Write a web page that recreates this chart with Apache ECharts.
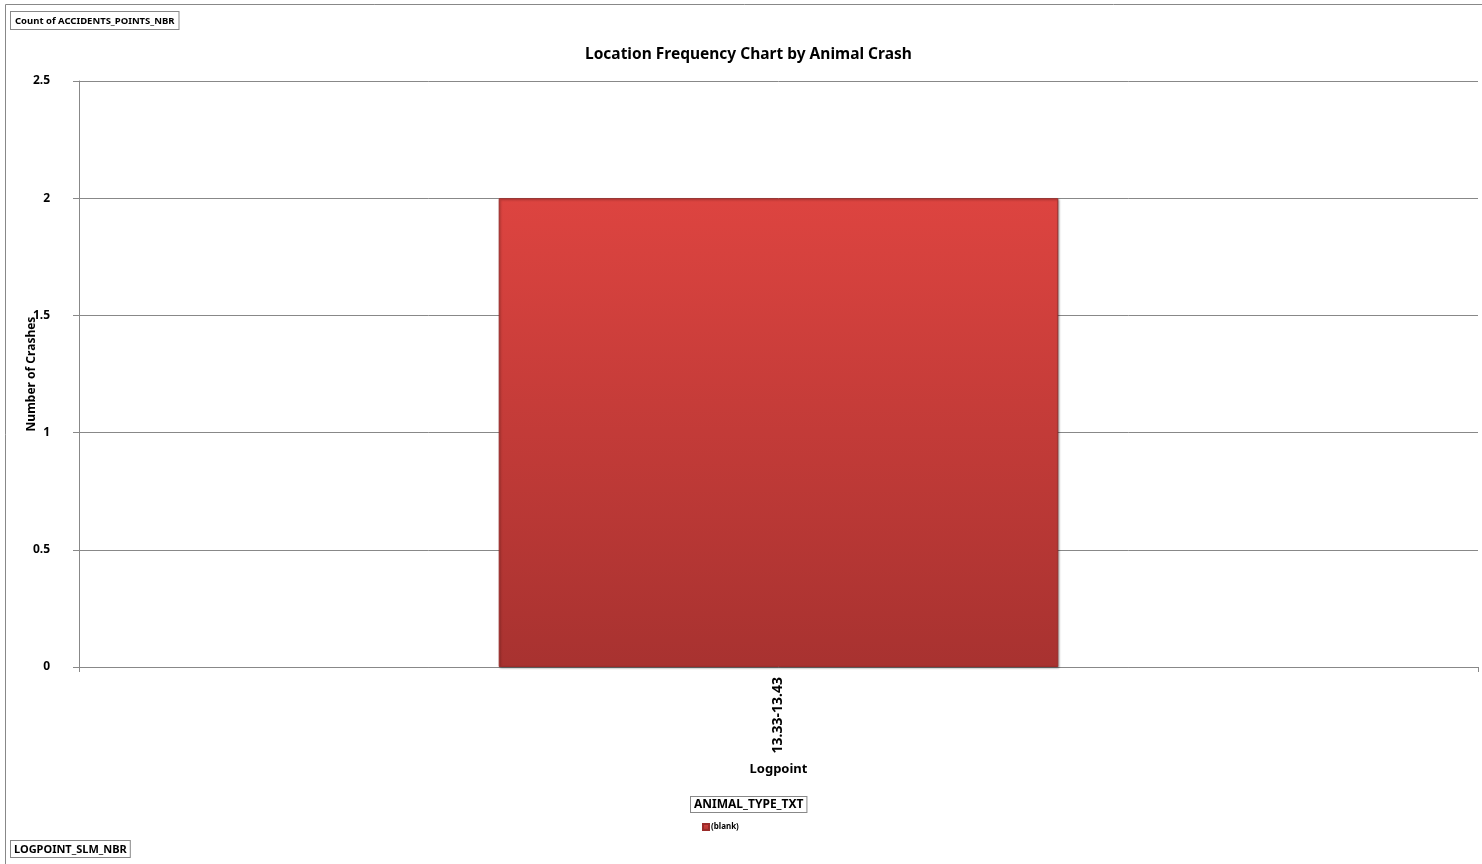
<!DOCTYPE html>
<html>
<head>
<meta charset="utf-8">
<script src="https://cdn.jsdelivr.net/npm/echarts@6/dist/echarts.min.js"></script>
<style>
  html, body { margin: 0; padding: 0; background: #fff; }
  #main { width: 1482px; height: 864px; }
</style>
</head>
<body>
<div id="main"></div>
<script>
// data
var categories = ['13.33-13.43'];
var seriesName = '(blank)';
var crashCounts = [2];
var yTicks = [0, 0.5, 1, 1.5, 2, 2.5];

var font = '"Noto Sans", "Open Sans", sans-serif';
var myChart = echarts.init(document.getElementById('main'));

var option = {
  animation: false,
  textStyle: { fontFamily: font },
  title: {
    text: 'Location Frequency Chart by Animal Crash',
    left: 580,
    top: 42,
    textStyle: { fontSize: 15.5, fontWeight: 'bold', color: '#000', fontFamily: font }
  },
  legend: {
    data: [seriesName],
    left: 697,
    top: 818,
    itemWidth: 6,
    itemHeight: 6,
    itemGap: 4,
    icon: 'rect',
    textStyle: { fontSize: 8, fontWeight: 'bold', color: '#000', padding: [0, 0, 0, -3] }
  },
  grid: { left: 79, right: 4, top: 81, bottom: 197, containLabel: false },
  xAxis: {
    type: 'category',
    data: categories,
    name: 'Logpoint',
    nameLocation: 'middle',
    nameGap: 96,
    nameMoveOverlap: false,
    nameTextStyle: { fontSize: 13, fontWeight: 'bold', color: '#000' },
    axisLine: { lineStyle: { color: '#888', width: 1 } },
    axisTick: { show: true, alignWithLabel: false, length: 5, lineStyle: { color: '#888' } },
    axisLabel: { rotate: 90, fontSize: 14, fontWeight: 'bold', color: '#000', margin: 10 }
  },
  yAxis: {
    type: 'value',
    min: yTicks[0],
    max: yTicks[yTicks.length - 1],
    interval: 0.5,
    name: 'Number of Crashes',
    nameLocation: 'middle',
    nameGap: 41,
    nameRotate: 90,
    nameMoveOverlap: false,
    nameTextStyle: { fontSize: 12, fontWeight: 'bold', color: '#000' },
    axisLine: { show: true, lineStyle: { color: '#888', width: 1 } },
    axisTick: { show: true, length: 6, lineStyle: { color: '#888' } },
    axisLabel: { fontSize: 12, fontWeight: 'bold', color: '#000', margin: 29 },
    splitLine: { show: true, lineStyle: { color: '#888', width: 1 } }
  },
  series: [{
    name: seriesName,
    type: 'bar',
    data: crashCounts,
    barWidth: '40%',
    itemStyle: {
      color: new echarts.graphic.LinearGradient(0, 0, 0, 1, [
        { offset: 0, color: '#dd4440' },
        { offset: 1, color: '#a83230' }
      ]),
      borderColor: '#9a2c2a',
      borderWidth: 1,
      shadowColor: 'rgba(0,0,0,0.3)',
      shadowBlur: 2,
      shadowOffsetX: 1,
      shadowOffsetY: 1
    }
  }],
  graphic: [
    {
      type: 'rect',
      shape: { x: 5.5, y: 4.5, width: 1480, height: 870 },
      style: { fill: 'none', stroke: '#888', lineWidth: 1 },
      silent: true
    },
    {
      type: 'text',
      left: 10,
      top: 11,
      style: {
        text: 'Count of ACCIDENTS_POINTS_NBR',
        font: 'bold 9.5px ' + font,
        fill: '#000',
        backgroundColor: '#fff',
        borderColor: '#888',
        borderWidth: 1,
        padding: [4, 4, 3, 4]
      }
    },
    {
      type: 'text',
      left: 10,
      top: 840,
      style: {
        text: 'LOGPOINT_SLM_NBR',
        font: 'bold 11px ' + font,
        fill: '#000',
        backgroundColor: '#fff',
        borderColor: '#888',
        borderWidth: 1,
        padding: [3, 3, 2, 3]
      }
    },
    {
      type: 'text',
      left: 690,
      top: 796,
      style: {
        text: 'ANIMAL_TYPE_TXT',
        font: 'bold 12px ' + font,
        fill: '#000',
        backgroundColor: '#fff',
        borderColor: '#888',
        borderWidth: 1,
        padding: [2, 3, 1, 3]
      }
    }
  ]
};

myChart.setOption(option);
</script>
</body>
</html>
